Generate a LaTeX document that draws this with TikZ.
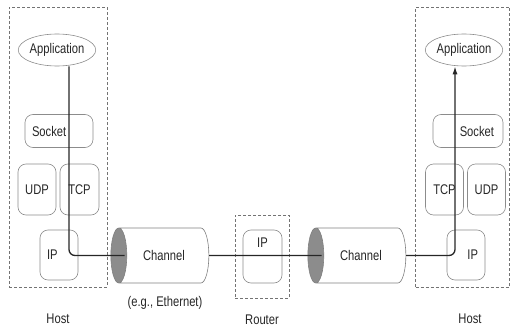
\documentclass[tikz,border=0pt]{standalone}
\usepackage{fontspec}
\setmainfont{Liberation Sans}[FakeStretch=0.8]
\usetikzlibrary{shapes.geometric,arrows.meta}

\begin{document}
\begin{tikzpicture}[x=1pt, y=-1pt, thick,
	txt/.style={text=black!85, font=\fontsize{14}{16}\selectfont},
	layer/.style={txt, rectangle, rounded corners=8pt, draw=black!45, line width=0.6pt, inner sep=0pt},
	app/.style={txt, ellipse, draw=black!45, line width=0.6pt, inner sep=0pt, minimum width=63pt, minimum height=32pt},
	channel/.style={txt, cylinder, shape border rotate=180, aspect=1.55, draw=black!50, line width=0.6pt,
		cylinder uses custom fill, cylinder end fill=black!45, cylinder body fill=white,
		minimum height=98pt, minimum width=55pt, inner sep=0pt},
	dashbox/.style={draw=black!55, line width=0.6pt, dash pattern=on 3pt off 2pt, inner sep=0pt},
	wire/.style={draw=black!85, line width=1.3pt, rounded corners=6pt}]
		\useasboundingbox (0,0) rectangle (511,329);

		% left host
		\node (host1) [dashbox, minimum width=98pt, minimum height=280pt] at (58,147) {};
		\node (app1) [app] at (57,50) {Application};
		\node (sock1) [layer, minimum width=68pt, minimum height=33pt, text width=54pt, align=left] at (59,131) {Socket};
		\node (udp1) [layer, minimum width=38pt, minimum height=51pt] at (37,189.5) {UDP};
		\node (tcp1) [layer, minimum width=39pt, minimum height=51pt] at (79.5,189.5) {TCP};
		\node (ip1) [layer, minimum width=38pt, minimum height=50pt, text width=24pt, align=left] at (59,255) {IP};
		\node (hostlbl1) [txt] at (58,319) {Host};

		% router
		\node (router) [dashbox, minimum width=54pt, minimum height=83pt] at (262,256.5) {};
		\node (ipr) [layer, minimum width=39pt, minimum height=53pt, text height=9pt, text depth=27pt, inner ysep=8.5pt] at (262.5,256.5) {IP};
		\node (routerlbl) [txt] at (262,320) {Router};

		% channels
		\node (ch1) [channel] at (164,255.5) {Channel};
		\node (ch1lbl) [txt] at (165,303) {(e.g., Ethernet)};
		\node (ch2) [channel] at (361,255.5) {Channel};

		% right host
		\node (host2) [dashbox, minimum width=94pt, minimum height=280pt] at (462.5,147) {};
		\node (app2) [app] at (464,50) {Application};
		\node (sock2) [layer, minimum width=70pt, minimum height=33pt, text width=52pt, align=right] at (468,131) {Socket};
		\node (tcp2) [layer, minimum width=38pt, minimum height=51pt] at (444.5,189.5) {TCP};
		\node (udp2) [layer, minimum width=38pt, minimum height=51pt] at (486.5,189.5) {UDP};
		\node (ip2) [layer, minimum width=38pt, minimum height=50pt, text width=24pt, align=right] at (466,255) {IP};
		\node (hostlbl2) [txt] at (470,319) {Host};

		% the path of a message
		\draw[wire] ([xshift=12pt]app1.south) |- ([xshift=14pt]ch1.west);
		\draw[wire] (ch1.east) -- ([xshift=14pt]ch2.west);
		\draw[wire, -{Latex[length=8pt,width=5pt]}] (ch2.east) -| ([xshift=-9pt]app2.south);
	\end{tikzpicture}
\end{document}
